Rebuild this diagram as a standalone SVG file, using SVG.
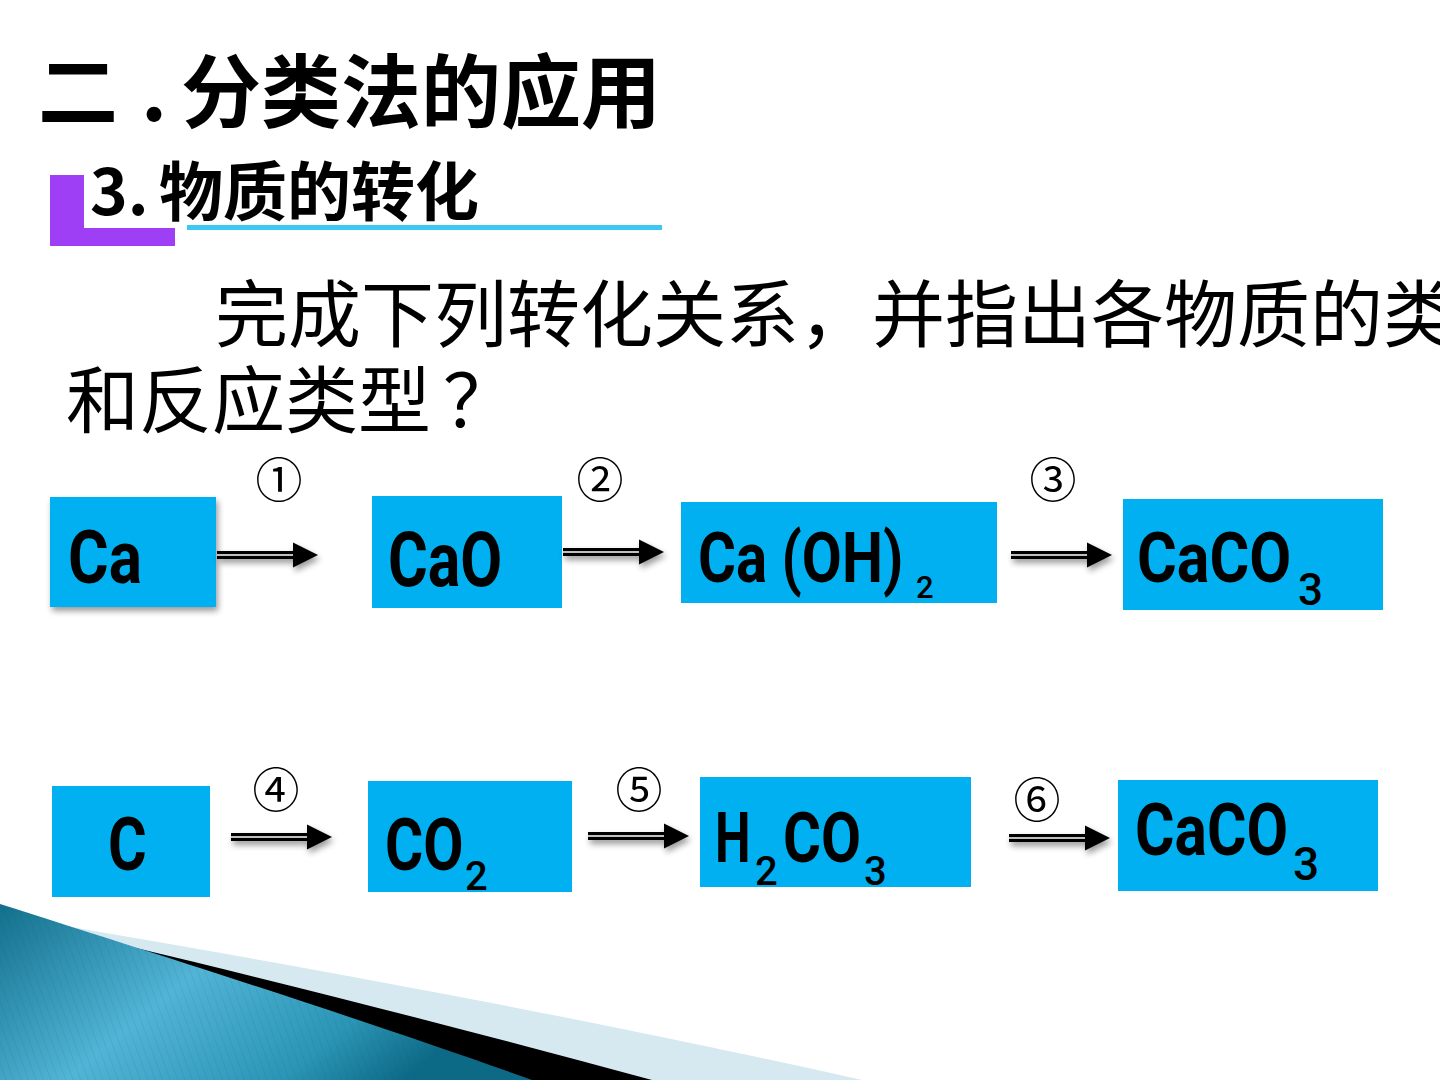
<svg xmlns="http://www.w3.org/2000/svg" xmlns:xlink="http://www.w3.org/1999/xlink" width="1440" height="1080" viewBox="0 0 1440 1080">
<style>
.cjkb{font-family:"Noto Sans CJK SC","Noto Sans",sans-serif;font-weight:700;fill:#000}
.cjk{font-family:"Noto Sans CJK SC","Noto Sans",sans-serif;font-weight:400;fill:#000}
.box{fill:#00B0F0}
.f{font-family:"Roboto","Liberation Sans",sans-serif;font-weight:700;fill:#000}
.sub{font-family:"Roboto","Liberation Sans",sans-serif;font-weight:500;fill:#000}
.num{font-family:"Noto Sans CJK SC","DejaVu Sans",sans-serif;font-size:47px;fill:#000;text-anchor:middle}
</style>
<defs>
<linearGradient id="teal" x1="0" y1="0" x2="1" y2="0.4">
<stop offset="0" stop-color="#12708C"/>
<stop offset="0.45" stop-color="#52B4D6"/>
<stop offset="0.8" stop-color="#2B95B5"/>
<stop offset="1" stop-color="#0D6A86"/>
</linearGradient>
<pattern id="stripes" width="7" height="7" patternUnits="userSpaceOnUse" patternTransform="rotate(-20)">
<line x1="0" y1="0" x2="0" y2="7" stroke="#0B4F66" stroke-width="1" stroke-opacity="0.18"/>
</pattern>
<filter id="sh" x="-20%" y="-20%" width="150%" height="160%">
<feGaussianBlur in="SourceAlpha" stdDeviation="3"/>
<feOffset dx="2" dy="4" result="b"/>
<feComponentTransfer><feFuncA type="linear" slope="0.4"/></feComponentTransfer>
<feMerge><feMergeNode/><feMergeNode in="SourceGraphic"/></feMerge>
</filter>
<g id="arr">
<line x1="0" y1="0" x2="78" y2="0" stroke="#000" stroke-width="8"/>
<line x1="0" y1="0" x2="78" y2="0" stroke="#fff" stroke-width="1.5"/>
<polygon points="76,-12.5 101,0 76,12.5" fill="#000"/>
</g>
</defs>
<rect width="1440" height="1080" fill="#fff"/>

<g id="decoration">
<path d="M0,915 C250,957 550,1010 862,1080 L0,1080 Z" fill="#D6E8F0"/>
<path d="M0,916 C200,962 420,1017 652,1080 L0,1080 Z" fill="#000"/>
<path d="M0,904 C160,955 380,1025 532,1080 L0,1080 Z" fill="url(#teal)"/>
<path d="M0,904 C160,955 380,1025 532,1080 L0,1080 Z" fill="url(#stripes)"/>
</g>

<g id="title">
<text class="cjkb" font-size="80" y="121"><tspan x="38">二</tspan><tspan x="141">.</tspan><tspan x="181">分类法的应用</tspan></text>
</g>

<g id="subtitle">
<path d="M50,175 H84 V228 H175 V246 H50 Z" fill="#9E3FF5"/>
<rect x="187" y="225" width="475" height="5" fill="#3CC8F0"/>
<text class="cjkb" font-size="64" y="215"><tspan x="90">3.</tspan><tspan x="159">物质的转化</tspan></text>
</g>

<g id="question">
<text class="cjk" font-size="73"><tspan x="215" y="341">完成下列转化关系，并指出各物质的类</tspan><tspan x="66" y="427">和反应类型</tspan><tspan dx="12">？</tspan></text>
</g>

<g id="node-ca">
<rect class="box" x="50" y="497" width="166" height="110" filter="url(#sh)"/>
<text class="f" font-size="74" transform="translate(68,583) scale(0.84,1)">Ca</text>
</g>
<g id="node-cao">
<rect class="box" x="372" y="496" width="190" height="112"/>
<text class="f" font-size="76" transform="translate(388,586) scale(0.8,1)">CaO</text>
</g>
<g id="node-caoh2">
<rect class="box" x="681" y="502" width="316" height="101"/>
<text class="f" font-size="70" transform="translate(698,582) scale(0.83,1)">Ca (OH)</text>
<text class="sub" x="916" y="598" font-size="31">2</text>
</g>
<g id="node-caco3-a">
<rect class="box" x="1123" y="499" width="260" height="111"/>
<text class="f" font-size="70" transform="translate(1137,582) scale(0.87,1)">CaCO</text>
<text class="sub" x="1298" y="605" font-size="44">3</text>
</g>
<g id="node-c">
<rect class="box" x="52" y="786" width="158" height="111"/>
<text class="f" font-size="74" transform="translate(108,870) scale(0.8,1)">C</text>
</g>
<g id="node-co2">
<rect class="box" x="368" y="781" width="204" height="111"/>
<text class="f" font-size="73" transform="translate(385,870) scale(0.8,1)">CO</text>
<text class="sub" x="465" y="890" font-size="40">2</text>
</g>
<g id="node-h2co3">
<rect class="box" x="700" y="777" width="271" height="110"/>
<text class="f" font-size="70" transform="translate(715,862) scale(0.72,1)">H</text>
<text class="sub" x="755" y="885" font-size="40">2</text>
<text class="f" font-size="70" transform="translate(783,862) scale(0.83,1)">CO</text>
<text class="sub" x="864" y="885" font-size="40">3</text>
</g>
<g id="node-caco3-b">
<rect class="box" x="1118" y="780" width="260" height="111"/>
<text class="f" font-size="72" transform="translate(1135,855) scale(0.84,1)">CaCO</text>
<text class="sub" x="1293" y="880" font-size="46">3</text>
</g>

<g id="connectors" filter="url(#sh)">
<use xlink:href="#arr" transform="translate(217,555)"/>
<use xlink:href="#arr" transform="translate(563,552)"/>
<use xlink:href="#arr" transform="translate(1011,555)"/>
<use xlink:href="#arr" transform="translate(231,837)"/>
<use xlink:href="#arr" transform="translate(588,836)"/>
<use xlink:href="#arr" transform="translate(1009,838)"/>
</g>

<g id="labels">
<text class="num" x="279" y="497">①</text>
<text class="num" x="600" y="497">②</text>
<text class="num" x="1053" y="497">③</text>
<text class="num" x="276" y="807">④</text>
<text class="num" x="639" y="807">⑤</text>
<text class="num" x="1037" y="817">⑥</text>
</g>
</svg>
